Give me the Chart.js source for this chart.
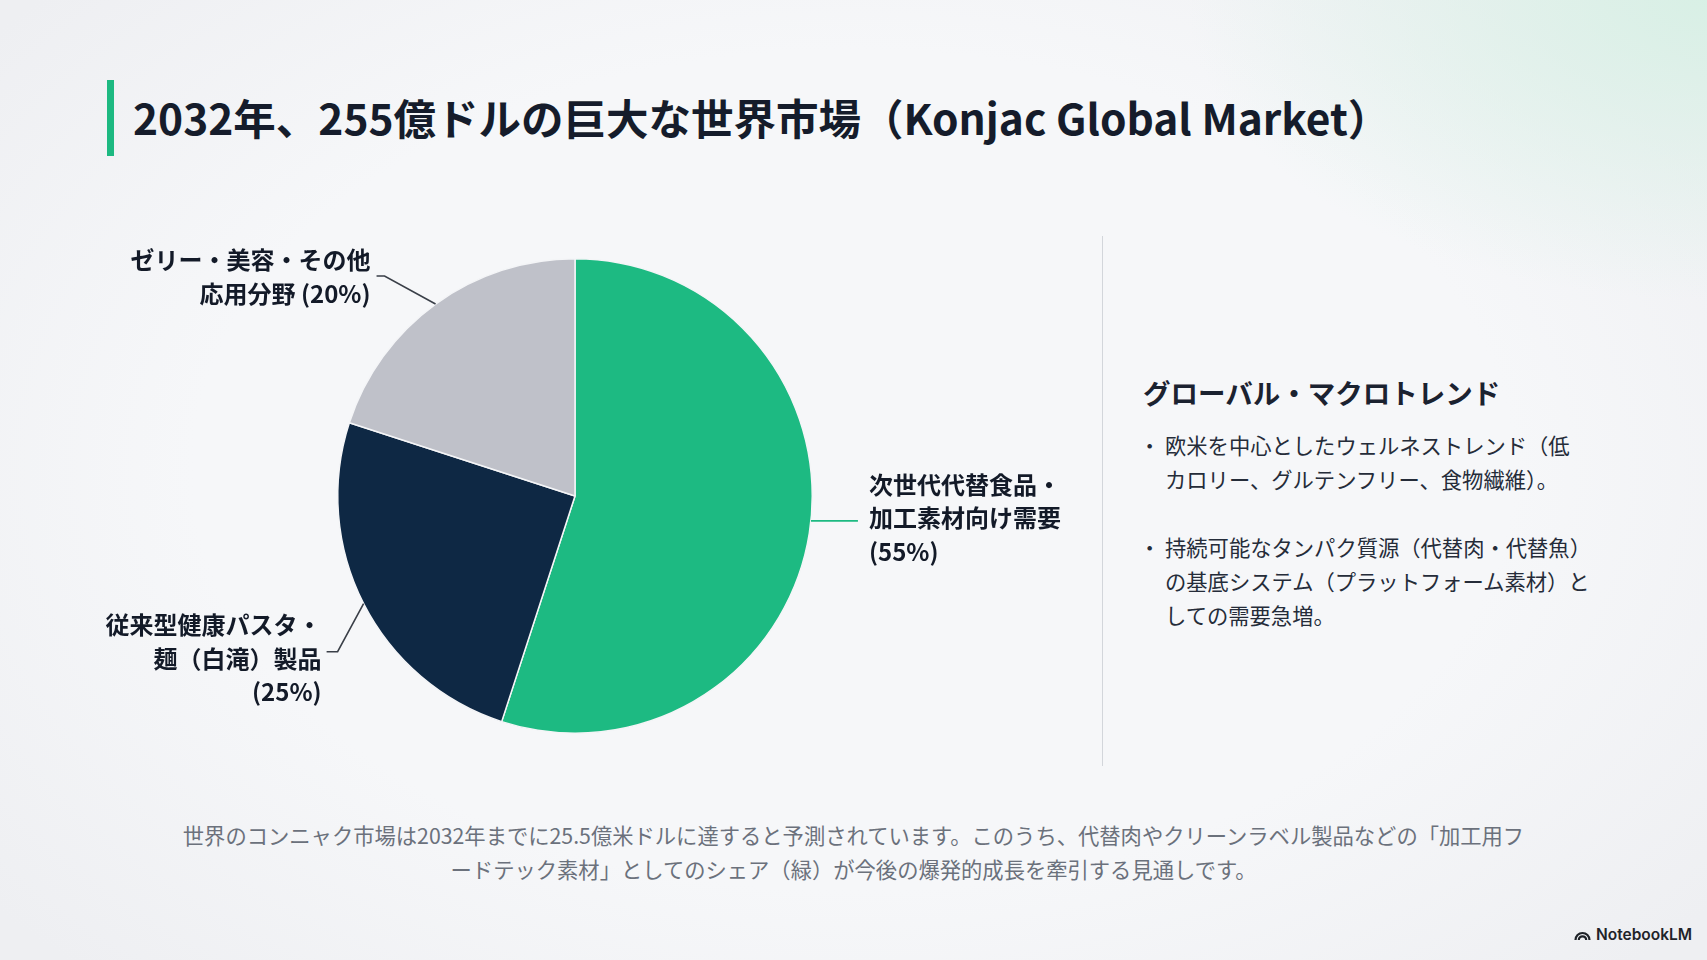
<!DOCTYPE html>
<html lang="ja">
<head>
<meta charset="utf-8">
<title>Konjac Global Market</title>
<script src="https://cdn.jsdelivr.net/npm/chart.js@4.4.1/dist/chart.umd.min.js"></script>
<style>
  html, body {
    margin: 0;
    padding: 0;
  }
  body {
    width: 1707px;
    height: 960px;
    position: relative;
    overflow: hidden;
    font-family: "Noto Sans CJK JP", "Noto Sans", sans-serif;
    color: #1b2230;
    background:
      radial-gradient(ellipse 520px 300px at 1707px 0px, rgba(214, 240, 228, 0.9), rgba(214, 240, 228, 0) 100%),
      radial-gradient(ellipse 1100px 700px at 853px 470px, rgba(246, 247, 249, 1) 60%, rgba(238, 239, 242, 1) 100%);
  }
  .title-bar {
    position: absolute;
    left: 107px;
    top: 80px;
    width: 7px;
    height: 76px;
    background: #1db981;
  }
  h1 {
    position: absolute;
    left: 133px;
    top: 87px;
    margin: 0;
    font-size: 42.5px;
    font-weight: 700;
    line-height: 60px;
    white-space: nowrap;
    color: #151c2b;
  }
  #chart-wrap {
    position: absolute;
    left: 0;
    top: 0;
    width: 1100px;
    height: 800px;
  }
  .divider {
    position: absolute;
    left: 1102px;
    top: 236px;
    width: 1px;
    height: 530px;
    background: #d3d6db;
  }
  .trend {
    position: absolute;
    left: 1143px;
    top: 370px;
  }
  .trend h2 {
    margin: 0;
    font-size: 27.5px;
    font-weight: 700;
    line-height: 44px;
    color: #1b2230;
    white-space: nowrap;
  }
  .trend ul {
    list-style: none;
    margin: 14px 0 0 0;
    padding: 0;
  }
  .trend li {
    position: relative;
    padding-left: 22px;
    font-size: 21.3px;
    line-height: 34px;
    white-space: nowrap;
    margin-bottom: 34px;
    color: #252c39;
  }
  .trend li::before {
    content: "・";
    position: absolute;
    left: -4px;
  }
  .note {
    position: absolute;
    left: 0;
    width: 1707px;
    top: 818px;
    text-align: center;
    font-size: 21.3px;
    line-height: 34px;
    color: #6b717c;
  }
  .brand {
    position: absolute;
    left: 1574px;
    top: 925px;
    font-family: "Inter", "Noto Sans", sans-serif;
    font-size: 15.5px;
    font-weight: 600;
    color: #1f2329;
    display: flex;
    align-items: center;
    gap: 5px;
  }
</style>
</head>
<body>
<div class="title-bar"></div>
<h1>2032年、255億ドルの巨大な世界市場（Konjac Global Market）</h1>

<div id="chart-wrap"><canvas id="market-share-chart"></canvas></div>

<div class="divider"></div>

<div class="trend">
  <h2>グローバル・マクロトレンド</h2>
  <ul>
    <li>欧米を中心としたウェルネストレンド（低<br>カロリー、グルテンフリー、食物繊維）。</li>
    <li>持続可能なタンパク質源（代替肉・代替魚）<br>の基底システム（プラットフォーム素材）と<br>しての需要急増。</li>
  </ul>
</div>

<div class="note">
  世界のコンニャク市場は2032年までに25.5億米ドルに達すると予測されています。このうち、代替肉やクリーンラベル製品などの「加工用フ<br>ードテック素材」としてのシェア（緑）が今後の爆発的成長を牽引する見通しです。
</div>

<div class="brand">
  <svg width="17" height="13" viewBox="0 0 17 13">
    <path d="M1.5 12 A7 7 0 0 1 15.5 12" fill="none" stroke="#1f2329" stroke-width="2.2"/>
    <path d="M4.8 12 A3.7 3.7 0 0 1 12.2 12" fill="none" stroke="#1f2329" stroke-width="2.2"/>
  </svg>
  NotebookLM
</div>

<script>
// market share 2032 (percent)
const segments = ['次世代代替食品・加工素材向け需要', '従来型健康パスタ・麺（白滝）製品', 'ゼリー・美容・その他応用分野'];
const shares = [55, 25, 20];
const segmentColours = ['#1dba82', '#0e2844', '#bfc1c9'];

// label text as shown on the slide, one entry per line
const labelLines = [
  ['次世代代替食品・', '加工素材向け需要', '(55%)'],
  ['従来型健康パスタ・', '麺（白滝）製品', '(25%)'],
  ['ゼリー・美容・その他', '応用分野 (20%)']
];

// where each callout sits relative to the point on the slice edge
const callouts = [
  { frac: 0.485, elbow: [47, 0], tick: 0, align: 'left', textGap: 11, lineOffsets: [-36, -3, 31], colour: '#1dba82' },
  { frac: 0.5, elbow: [-26, 48], tick: -11, align: 'right', textGap: 5, lineOffsets: [-27, 7, 40], colour: '#3a3f48' },
  { frac: 0.5, elbow: [-51, -28], tick: -8, align: 'right', textGap: 6, lineOffsets: [-16, 18], colour: '#3a3f48' }
];

const calloutPlugin = {
  id: 'callouts',
  afterDatasetsDraw(chart) {
    const ctx = chart.ctx;
    const arcs = chart.getDatasetMeta(0).data;
    arcs.forEach((arc, i) => {
      const c = callouts[i];
      const { x, y, startAngle, endAngle, outerRadius } = arc.getProps(['x', 'y', 'startAngle', 'endAngle', 'outerRadius'], true);
      const a = startAngle + (endAngle - startAngle) * c.frac;
      const ex = x + Math.cos(a) * outerRadius;
      const ey = y + Math.sin(a) * outerRadius;
      const bx = ex + c.elbow[0];
      const by = ey + c.elbow[1];
      const tx = bx + c.tick;

      ctx.save();
      ctx.strokeStyle = c.colour;
      ctx.lineWidth = 1.6;
      ctx.beginPath();
      ctx.moveTo(ex, ey);
      ctx.lineTo(bx, by);
      if (c.tick) ctx.lineTo(tx, by);
      ctx.stroke();

      ctx.fillStyle = '#131a28';
      ctx.font = '700 24px "Noto Sans CJK JP", sans-serif';
      ctx.textAlign = c.align;
      ctx.textBaseline = 'middle';
      const textX = c.align === 'left' ? tx + c.textGap : tx - c.textGap;
      labelLines[i].forEach((line, j) => {
        ctx.fillText(line, textX, by + c.lineOffsets[j]);
      });
      ctx.restore();
    });
  }
};

const canvas = document.getElementById('market-share-chart');

new Chart(canvas.getContext('2d'), {
  type: 'pie',
  data: {
    labels: segments,
    datasets: [{
      data: shares,
      backgroundColor: segmentColours,
      borderColor: '#f4f5f7',
      borderWidth: 1.5
    }]
  },
  options: {
    responsive: true,
    maintainAspectRatio: false,
    animation: false,
    layout: {
      padding: { left: 337, right: 287, top: 258, bottom: 66 }
    },
    plugins: {
      legend: { display: false },
      tooltip: { enabled: false }
    }
  },
  plugins: [calloutPlugin]
});
</script>
</body>
</html>
